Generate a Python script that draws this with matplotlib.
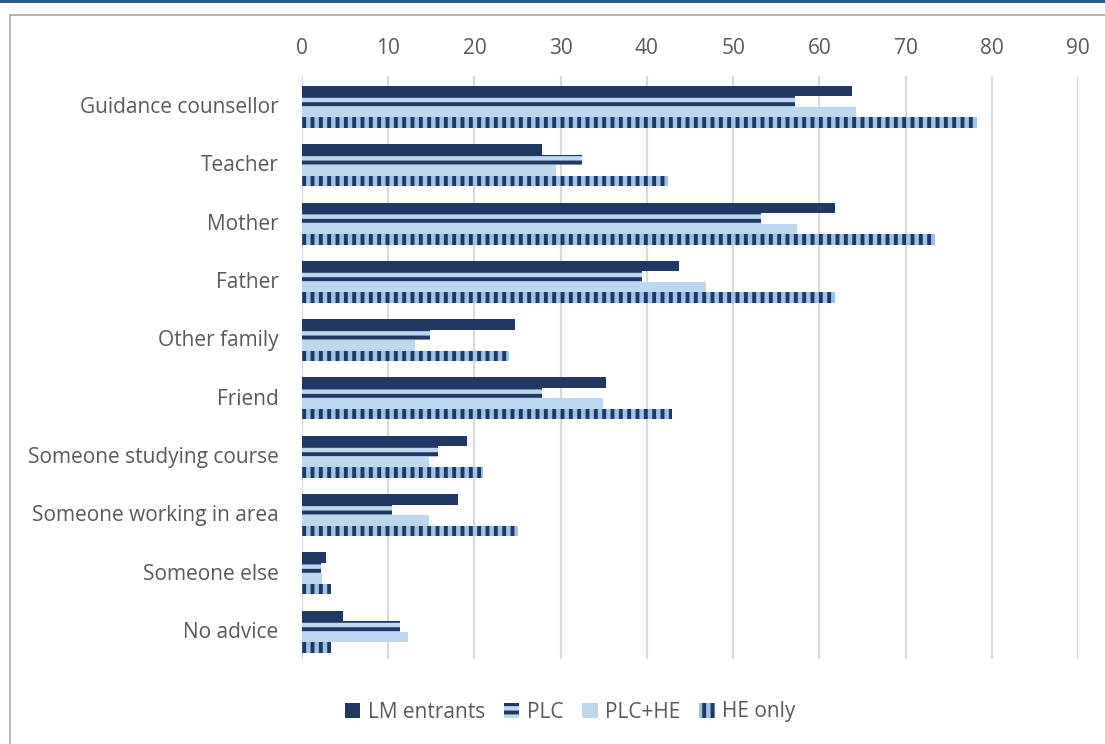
import matplotlib.pyplot as plt
import numpy as np
from matplotlib.patches import Rectangle

categories = ["Guidance counsellor", "Teacher", "Mother", "Father", "Other family",
              "Friend", "Someone studying course", "Someone working in area",
              "Someone else", "No advice"]
lm_entrants = [63.8, 27.8, 61.8, 43.7, 24.7, 35.2, 19.1, 18.1, 2.8, 4.7]
plc = [57.2, 32.5, 53.2, 39.4, 14.8, 27.8, 15.8, 10.4, 2.2, 11.4]
plc_he = [64.3, 29.5, 57.4, 46.9, 13.1, 34.9, 14.7, 14.7, 2.3, 12.3]
he_only = [78.3, 42.5, 73.4, 61.8, 24.0, 42.9, 21.0, 25.1, 3.4, 3.4]
ticks = list(range(0, 100, 10))

navy = "#203864"
light = "#BDD7EE"
mid = "#9DC3E6"
grey = "#595959"

plt.rcParams["font.family"] = ["Open Sans", "DejaVu Sans"]
plt.rcParams["hatch.color"] = navy
plt.rcParams["hatch.linewidth"] = 2.8

fig = plt.figure(figsize=(11.05, 7.44), dpi=100)
ax = fig.add_axes([0.2733, 0.1142, 0.7023, 0.7836])

# frame around chart + blue rule at top
fig.patches.append(Rectangle((10 / 1105, -0.1), 1.2, (744 - 15) / 744 + 0.1, transform=fig.transFigure,
                             fill=False, edgecolor="#A6A6A6", linewidth=1.2))
fig.patches.append(Rectangle((0, 1 - 3 / 744), 1, 3 / 744, transform=fig.transFigure,
                             facecolor="#2F5597", edgecolor="none"))

y = np.arange(len(categories)) + 0.03
h = 0.18
ax.barh(y - 1.5 * h, lm_entrants, height=h, color=navy, label="LM entrants")
ax.barh(y - 0.5 * h, plc, height=h, color=light, hatch="--", edgecolor=navy, linewidth=0, label="PLC")
ax.barh(y + 0.5 * h, plc_he, height=h, color=light, label="PLC+HE")
ax.barh(y + 1.5 * h, he_only, height=h, color=mid, hatch="||", edgecolor=navy, linewidth=0, label="HE only")

ax.set_xlim(0, 90)
ax.set_ylim(len(categories) - 0.5, -0.5)
ax.set_xticks(ticks)
ax.set_yticks(np.arange(len(categories)))
ax.set_yticklabels(categories)
ax.xaxis.tick_top()
ax.tick_params(axis="both", length=0, labelsize=15, colors=grey)
ax.tick_params(axis="x", pad=12)
ax.tick_params(axis="y", pad=17)
ax.grid(axis="x", color="#D9D9D9", linewidth=1.6)
ax.set_axisbelow(True)
for s in ax.spines.values():
    s.set_visible(False)

leg = fig.legend(loc="center", bbox_to_anchor=(570 / 1105, 1 - 712 / 744), ncol=4, frameon=False,
                 fontsize=15, handlelength=0.75, handleheight=0.75, handletextpad=0.35, columnspacing=0.9)
for t in leg.get_texts():
    t.set_color(grey)

fig.savefig("out.png", dpi=100)
